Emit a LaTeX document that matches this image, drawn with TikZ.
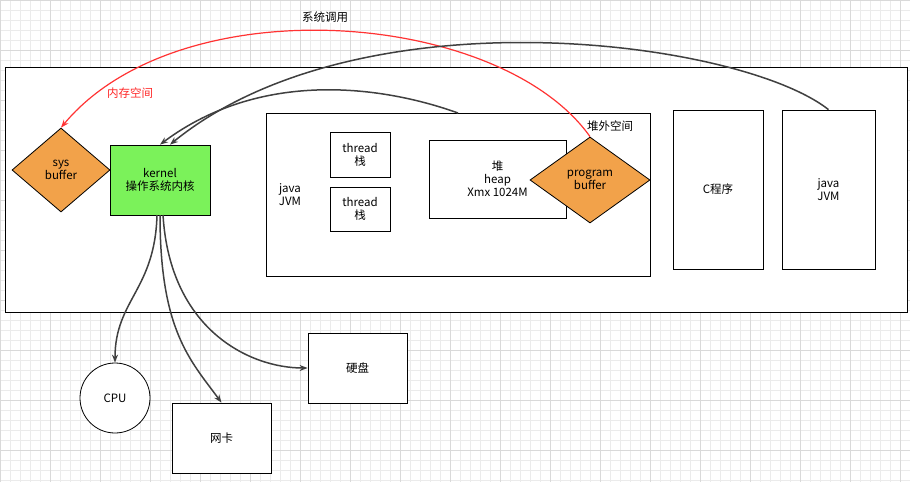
\documentclass[tikz,border=0pt]{standalone}
\usepackage{fontspec}
\setmainfont{Liberation Sans}
\newfontfamily\cjk{Noto Sans CJK SC}
\usetikzlibrary{shapes.geometric,arrows.meta}
\definecolor{orng}{HTML}{F2A24A}
\definecolor{grn}{HTML}{7BF25A}
\begin{document}
\begin{tikzpicture}[x=1pt,y=-1pt,font=\cjk\fontsize{11.5}{13}\selectfont,
 box/.style={draw,thick,fill=white,align=center},
 dia/.style={draw,thick,diamond,fill=orng,align=center,inner sep=0pt,aspect=1.4},
 conn/.style={draw=black!75,line width=1.5pt,-{Stealth[length=8pt]}},
 redc/.style={draw=red!80,line width=1.2pt,-{Stealth[length=8pt]}}]
\useasboundingbox (0,0) rectangle (910,482);
\draw[black!8,step=10pt] (0,0) grid (910,482);
\draw[black!15,step=50pt] (0,0) grid (910,482);
\draw[box] (5,67) rectangle (907,312);
\node[box,minimum width=384,minimum height=163] (jvm) at (458,194.5) {};
\node[align=center] (jl) at (290,195) {java\\JVM};
\node (off) at (610,126) {堆外空间};
\node[box,minimum width=60,minimum height=45] (t1) at (360,154.5) {thread\\栈};
\node[box,minimum width=60,minimum height=44] (t2) at (360,209) {thread\\栈};
\node[box,minimum width=137,minimum height=78] (heap) at (497.5,179) {堆\\heap\\Xmx 1024M};
\node[dia,minimum width=120,minimum height=86] (pb) at (590,180) {program\\buffer};
\node[dia,minimum width=98,minimum height=84] (sb) at (61,170) {sys\\buffer};
\node[box,fill=grn,minimum width=100,minimum height=70] (k) at (160,180) {kernel\\操作系统内核};
\node[box,minimum width=90,minimum height=159] (c) at (718,189.5) {C程序};
\node[box,minimum width=93,minimum height=159] (j2) at (828.5,189.5) {java\\JVM};
\node[box,circle,minimum size=70] (cpu) at (115,398) {CPU};
\node[box,minimum width=99,minimum height=70] (nic) at (221.5,438) {网卡};
\node[box,minimum width=99,minimum height=70] (hd) at (357.5,368) {硬盘};
\node[fill=white,inner sep=1pt] (sc) at (325,17) {系统调用};
\node[red!85] (mem) at (130,93) {内存空间};
\draw[redc] (pb.north) .. controls (500,10) and (180,-15) .. (sb.north);
\node[fill=white,inner sep=1pt] at (325,17) {系统调用};
\draw[conn] (458,113) .. controls (380,85) and (260,70) .. (k.north);
\draw[conn] (j2.north) .. controls (740,40) and (360,-10) .. ([xshift=10pt]k.north);
\draw[conn] (157,215) .. controls (155,290) and (115,300) .. (cpu.north);
\draw[conn] (160,215) .. controls (160,330) and (190,360) .. (nic.north);
\draw[conn] (163,215) .. controls (170,330) and (250,368) .. (hd.west);
\end{tikzpicture}
\end{document}
